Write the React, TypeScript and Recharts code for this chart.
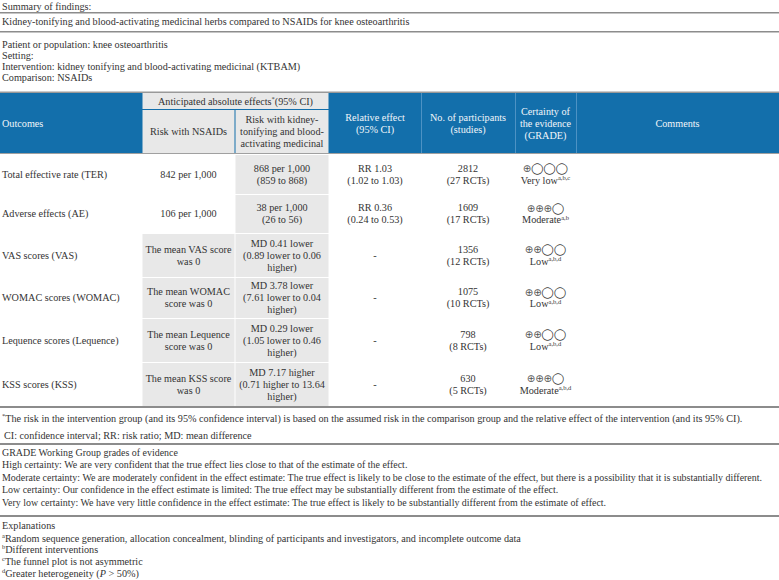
import React from "react";
import { Surface, Layer, Rectangle } from "recharts";

// ---- table content ----
const title = "Summary of findings:";
const comparisonTitle =
  "Kidney-tonifying and blood-activating medicinal herbs compared to NSAIDs for knee osteoarthritis";
const populationLines = [
  "Patient or population: knee osteoarthritis",
  "Setting:",
  "Intervention: kidney tonifying and blood-activating medicinal (KTBAM)",
  "Comparison: NSAIDs",
];

const outcomes = [
  "Total effective rate (TER)",
  "Adverse effects (AE)",
  "VAS scores (VAS)",
  "WOMAC scores (WOMAC)",
  "Lequence scores (Lequence)",
  "KSS scores (KSS)",
];
const riskNsaids = [
  ["842 per 1,000"],
  ["106 per 1,000"],
  ["The mean VAS score", "was 0"],
  ["The mean WOMAC", "score was 0"],
  ["The mean Lequence", "score was 0"],
  ["The mean KSS score", "was 0"],
];
const riskKtbam = [
  ["868 per 1,000", "(859 to 868)"],
  ["38 per 1,000", "(26 to 56)"],
  ["MD 0.41 lower", "(0.89 lower to 0.06", "higher)"],
  ["MD 3.78 lower", "(7.61 lower to 0.04", "higher)"],
  ["MD 0.29 lower", "(1.05 lower to 0.46", "higher)"],
  ["MD 7.17 higher", "(0.71 higher to 13.64", "higher)"],
];
const relativeEffect = [
  ["RR 1.03", "(1.02 to 1.03)"],
  ["RR 0.36", "(0.24 to 0.53)"],
  ["-"],
  ["-"],
  ["-"],
  ["-"],
];
const participants = [2812, 1609, 1356, 1075, 798, 630];
const studies = [27, 17, 12, 10, 8, 5];
const certaintyLevel = [1, 3, 2, 2, 2, 3];
const certaintyLabel = ["Very low", "Moderate", "Low", "Low", "Low", "Moderate"];
const certaintyNotes = ["a,b,c", "a,b", "a,b,d", "a,b,d", "a,b,d", "a,b,d"];
// outcomes whose NSAID risk is a mean score get a shaded cell
const shadedNsaids = [false, false, true, true, true, true];

const gradeLines = [
  "GRADE Working Group grades of evidence",
  "High certainty: We are very confident that the true effect lies close to that of the estimate of the effect.",
  "Moderate certainty: We are moderately confident in the effect estimate: The true effect is likely to be close to the estimate of the effect, but there is a possibility that it is substantially different.",
  "Low certainty: Our confidence in the effect estimate is limited: The true effect may be substantially different from the estimate of the effect.",
  "Very low certainty: We have very little confidence in the effect estimate: The true effect is likely to be substantially different from the estimate of effect.",
];
const explanationNotes = ["a", "b", "c", "d"];
const explanationTexts = [
  "Random sequence generation, allocation concealment, blinding of participants and investigators, and incomplete outcome data",
  "Different interventions",
  "The funnel plot is not asymmetric",
  "Greater heterogeneity (",
];

// ---- layout ----
const W = 779;
const H = 580;
const FONT = '"Liberation Serif", "DejaVu Serif", serif';
const SYM = '"DejaVu Sans", sans-serif';
const FS = 10.2;
const LH = 12;
const BLUE = "#136fab";
const HEAD_TEXT = "#f2f6fa";
const TEXT = "#333333";
const GRAY = "#e8e8e8";
const RULE = "#8c8c8c";

const colX = [0, 142, 235, 329, 421, 515, 576, 779];
const rowY = [154, 194, 233, 277, 318, 362, 406];
const headTop = 93;
const headMid = 109;
const headBottom = 153;

const mid = (a: number, b: number) => (a + b) / 2;

function Lines({
  lines,
  x,
  cy,
  anchor = "middle",
  fill = TEXT,
  size = FS,
}: {
  lines: string[];
  x: number;
  cy: number;
  anchor?: "start" | "middle" | "end";
  fill?: string;
  size?: number;
}) {
  const n = lines.length;
  return (
    <>
      {lines.map((l, i) => (
        <text
          key={i}
          x={x}
          y={cy + (i - (n - 1) / 2) * LH}
          textAnchor={anchor}
          dominantBaseline="central"
          fontFamily={FONT}
          fontSize={size}
          fill={fill}
        >
          {l}
        </text>
      ))}
    </>
  );
}

function Rule({ y, h = 1.5 }: { y: number; h?: number }) {
  return <Rectangle x={0} y={y} width={W} height={h} fill={RULE} />;
}

function Certainty({ level, label, note, cx, cy }: { level: number; label: string; note: string; cx: number; cy: number }) {
  return (
    <>
      <text x={cx} y={cy - 6} textAnchor="middle" dominantBaseline="central" fontFamily={SYM} fill="#555">
        {[0, 1, 2, 3].map((i) =>
          i < level ? (
            <tspan key={i} fontSize={10}>
              ⊕
            </tspan>
          ) : (
            <tspan key={i} fontSize={11} fill="#333">
              ◯
            </tspan>
          )
        )}
      </text>
      <text x={cx} y={cy + 6} textAnchor="middle" dominantBaseline="central" fontFamily={FONT} fontSize={FS} fill={TEXT}>
        {label}
        <tspan dy={-3} fontSize={6.5}>
          {note}
        </tspan>
      </text>
    </>
  );
}

export default function App() {
  return (
    <div style={{ position: "absolute", left: 0, top: 0, width: W, height: H, background: "#fff" }}>
      <Surface width={W} height={H}>
        {/* title block */}
        <Layer>
          <Lines lines={[title]} x={2} cy={6} anchor="start" />
          <Rule y={12} />
          <Lines lines={[comparisonTitle]} x={2} cy={21} anchor="start" />
          <Rule y={31} />
          {populationLines.map((l, i) => (
            <Lines key={i} lines={[l]} x={2} cy={44 + i * 11} anchor="start" />
          ))}
        </Layer>

        {/* header */}
        <Layer>
          <Rectangle x={0} y={headTop - 1.5} width={W} height={1.5} fill="#999" />
          <Rectangle x={0} y={headTop} width={W} height={headBottom - headTop} fill={BLUE} />
          <Rectangle x={colX[1] + 0.5} y={headTop} width={colX[3] - colX[1] - 1} height={headMid - headTop} fill={GRAY} />
          <Rectangle x={colX[1] + 0.5} y={headMid + 1} width={colX[2] - colX[1] - 1} height={headBottom - headMid - 1} fill={GRAY} />
          <Rectangle x={colX[2] + 0.5} y={headMid + 1} width={colX[3] - colX[2] - 1} height={headBottom - headMid - 1} fill={GRAY} />
          {[colX[4], colX[5], colX[6]].map((x) => (
            <Rectangle key={x} x={x} y={headTop} width={0.8} height={headBottom - headTop} fill="#5d9ccb" />
          ))}
          <Lines lines={["Outcomes"]} x={2} cy={123} anchor="start" fill={HEAD_TEXT} />
          <text
            x={mid(colX[1], colX[3])}
            y={101}
            textAnchor="middle"
            dominantBaseline="central"
            fontFamily={FONT}
            fontSize={FS}
            fill={TEXT}
          >
            Anticipated absolute effects
            <tspan dy={-3} fontSize={6.5}>
              *
            </tspan>
            <tspan dy={3}>(95% CI)</tspan>
          </text>
          <Lines lines={["Risk with NSAIDs"]} x={mid(colX[1], colX[2])} cy={131} />
          <Lines
            lines={["Risk with kidney-", "tonifying and blood-", "activating medicinal"]}
            x={mid(colX[2], colX[3])}
            cy={131}
          />
          <Lines lines={["Relative effect", "(95% CI)"]} x={mid(colX[3], colX[4])} cy={123} fill={HEAD_TEXT} />
          <Lines lines={["No. of participants", "(studies)"]} x={mid(colX[4], colX[5])} cy={123} fill={HEAD_TEXT} />
          <Lines
            lines={["Certainty of", "the evidence", "(GRADE)"]}
            x={mid(colX[5], colX[6])}
            cy={123}
            fill={HEAD_TEXT}
          />
          <Lines lines={["Comments"]} x={mid(colX[6], colX[7])} cy={123} fill={HEAD_TEXT} />
          <Rectangle x={0} y={headBottom} width={W} height={1} fill="#a0a0a0" />
        </Layer>

        {/* body */}
        <Layer>
          {outcomes.map((name, i) => {
            const y0 = rowY[i];
            const y1 = rowY[i + 1];
            const cy = mid(y0, y1);
            return (
              <g key={name}>
                {shadedNsaids[i] && (
                  <Rectangle x={colX[1] + 0.5} y={y0 + 1} width={colX[2] - colX[1] - 1} height={y1 - y0 - 1} fill={GRAY} />
                )}
                <Rectangle x={colX[2] + 0.5} y={y0 + 1} width={colX[3] - colX[2] - 1} height={y1 - y0 - 1} fill={GRAY} />
                <Lines lines={[name]} x={2} cy={cy} anchor="start" />
                <Lines lines={riskNsaids[i]} x={mid(colX[1], colX[2])} cy={cy} />
                <Lines lines={riskKtbam[i]} x={mid(colX[2], colX[3])} cy={cy} />
                <Lines lines={relativeEffect[i]} x={mid(colX[3], colX[4])} cy={cy} />
                <Lines
                  lines={[String(participants[i]), `(${studies[i]} RCTs)`]}
                  x={mid(colX[4], colX[5])}
                  cy={cy}
                />
                <Certainty
                  level={certaintyLevel[i]}
                  label={certaintyLabel[i]}
                  note={certaintyNotes[i]}
                  cx={mid(colX[5], colX[6])}
                  cy={cy}
                />
              </g>
            );
          })}
        </Layer>

        {/* footnotes */}
        <Layer>
          <Rule y={406} h={2} />
          <text x={2} y={418} dominantBaseline="central" fontFamily={FONT} fontSize={FS} fill={TEXT}>
            <tspan dy={-3} fontSize={6.5}>
              *
            </tspan>
            <tspan dy={3}>
              The risk in the intervention group (and its 95% confidence interval) is based on the assumed risk in the
              comparison group and the relative effect of the intervention (and its 95% CI).
            </tspan>
          </text>
          <Lines lines={["CI: confidence interval; RR: risk ratio; MD: mean difference"]} x={4} cy={435} anchor="start" />
          <Rule y={443} h={2} />
          {gradeLines.map((l, i) => (
            <Lines key={i} lines={[l]} x={2} cy={452 + i * 12.6} anchor="start" size={9.95} />
          ))}
          <Rule y={515} h={2} />
          <Lines lines={["Explanations"]} x={2} cy={525} anchor="start" />
          {explanationTexts.map((t, i) => (
            <text
              key={i}
              x={2}
              y={537.5 + i * 11.8}
              dominantBaseline="central"
              fontFamily={FONT}
              fontSize={FS}
              fill={TEXT}
            >
              <tspan dy={-3} fontSize={6.5}>
                {explanationNotes[i]}
              </tspan>
              <tspan dy={3}>{t}</tspan>
              {i === 3 && (
                <>
                  <tspan fontStyle="italic">P</tspan>
                  <tspan>{" > 50%)"}</tspan>
                </>
              )}
            </text>
          ))}
        </Layer>
      </Surface>
    </div>
  );
}
